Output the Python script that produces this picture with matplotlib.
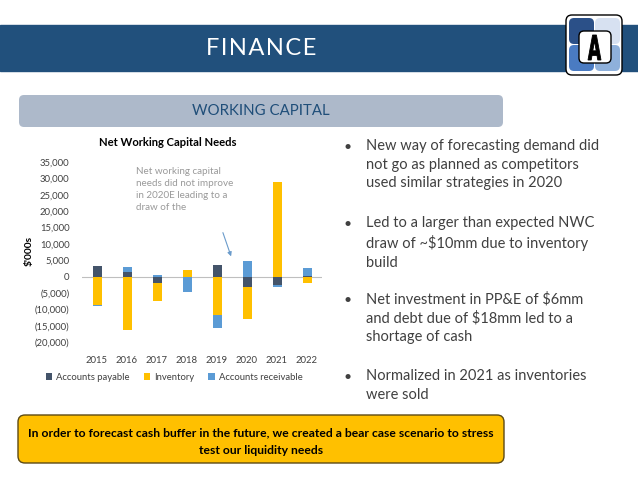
import matplotlib.pyplot as plt
import numpy as np
from matplotlib.font_manager import FontProperties
from matplotlib.patches import FancyBboxPatch, PathPatch
from matplotlib.textpath import TextPath
from matplotlib.ticker import FuncFormatter, MultipleLocator
from matplotlib.transforms import Affine2D

plt.rcParams['font.family'] = ['Lato', 'DejaVu Sans']

# chart data ($'000s)
years = ['2015', '2016', '2017', '2018', '2019', '2020', '2021', '2022']
payable = [3400, 1300, -1800, 0, 3700, -3300, -2500, 300]
inventory = [-8600, -16200, -5500, 2100, -11800, -9700, 28900, -2000]
receivable = [-300, 1700, 400, -4600, -4000, 4700, -800, 2300]

series = [('Accounts payable', payable, '#44546A'),
          ('Inventory', inventory, '#FFC000'),
          ('Accounts receivable', receivable, '#5B9BD5')]

bullets = [
    'New way of forecasting demand did\nnot go as planned as competitors\nused similar strategies in 2020',
    'Led to a larger than expected NWC\ndraw of ~$10mm due to inventory\nbuild',
    'Net investment in PP&E of $6mm\nand debt due of $18mm led to a\nshortage of cash',
    'Normalized in 2021 as inventories\nwere sold',
]

W, H = 638, 479
fig = plt.figure(figsize=(W / 100, H / 100), dpi=100)

# slide background, drawn in pixel coordinates
bg = fig.add_axes([0, 0, 1, 1])
bg.set_xlim(0, W)
bg.set_ylim(H, 0)
bg.axis('off')

bg.add_patch(plt.Rectangle((0, 25), W, 46, color='#21507C'))
bg.text(261, 48, '\u200a'.join('FINANCE'), color='white', fontsize=17,
        ha='center', va='center')

# logo
bg.add_patch(FancyBboxPatch((566, 15), 56, 60, boxstyle='round,pad=0,rounding_size=6',
                            fc='white', ec='black', lw=1))
quads = [(569, 18, '#2B5088'), (595, 18, '#D7E1F1'), (569, 45, '#4A7BC2'), (595, 45, '#8EB0DB')]
for qx, qy, qc in quads:
    bg.add_patch(FancyBboxPatch((qx, qy), 25, 26, boxstyle='round,pad=0,rounding_size=5',
                                fc=qc, ec='none'))
bg.add_patch(FancyBboxPatch((579, 31), 32, 32, boxstyle='round,pad=0,rounding_size=5',
                            fc='white', ec='black', lw=1))
# narrow, tall "A" like the logo letter
tp = TextPath((0, 0), 'A', size=1, prop=FontProperties(family='DejaVu Sans', weight='bold'))
ext = tp.get_extents()
sx, sy = 13 / ext.width, 25 / ext.height
tr = (Affine2D().translate(-ext.x0 - ext.width / 2, -ext.y0 - ext.height / 2)
      .scale(sx, -sy).translate(594.5, 47.5))
bg.add_patch(PathPatch(tr.transform_path(tp), fc='black', ec='black', lw=0.6))

# sub header
bg.add_patch(FancyBboxPatch((19, 95), 484, 32, boxstyle='round,pad=0,rounding_size=5',
                            fc='#ADB9CA', ec='none'))
bg.text(261, 111, 'WORKING CAPITAL', color='#1F4E79', fontsize=10.8, ha='center', va='center')

# bullets
bullet_y = [139, 216, 292, 369]
for y, txt in zip(bullet_y, bullets):
    bg.text(348, y + 8, '•', fontsize=10, color='#404040', ha='center', va='center')
    bg.text(366, y, txt, fontsize=10.5, color='#404040', va='top', ha='left',
            linespacing=1.42, parse_math=False)

# bottom call-out
bg.add_patch(FancyBboxPatch((18, 415), 486, 48, boxstyle='round,pad=0,rounding_size=7',
                            fc='#FFC000', ec='#5C4A14', lw=1))
bg.text(261, 441.5, 'In order to forecast cash buffer in the future, we created a bear case scenario to stress\n'
        'test our liquidity needs', fontsize=8.75, fontweight='bold', ha='center', va='center',
        linespacing=1.75, color='black')

# annotation on the chart
bg.text(136, 167, 'Net working capital\nneeds did not improve\nin 2020E leading to a\ndraw of the',
        fontsize=7.1, color='#9A9A9A', va='top', ha='left', linespacing=1.43)
bg.annotate('', xy=(232, 259), xytext=(222, 230),
            arrowprops=dict(arrowstyle='-|>', color='#6A9BCB', lw=0.8, mutation_scale=6))

# chart
ax = fig.add_axes([82 / W, 1 - 342 / H, 240 / W, (342 - 162.3) / H])
ax.patch.set_alpha(0)
x = np.arange(len(years))
pos_base = np.zeros(len(years))
neg_base = np.zeros(len(years))
for name, vals, col in series:
    v = np.array(vals, dtype=float)
    base = np.where(v >= 0, pos_base, neg_base)
    ax.bar(x, v, 0.3, bottom=base, color=col, label=name, zorder=2)
    pos_base += np.clip(v, 0, None)
    neg_base += np.clip(v, None, 0)

ax.axhline(0, color='#BFBFBF', lw=0.8, zorder=1)
ax.set_xlim(-0.5, len(years) - 0.5)
ax.set_ylim(-20000, 35000)
ax.yaxis.set_major_locator(MultipleLocator(5000))
ax.yaxis.set_major_formatter(FuncFormatter(lambda v, p: f'({abs(v):,.0f})' if v < 0 else f'{v:,.0f}'))
ax.set_xticks(x)
ax.set_xticklabels(years)
ax.tick_params(length=0, labelsize=6.8, colors='#404040')
ax.tick_params(axis='y', pad=9)
ax.tick_params(axis='x', pad=10)
for s in ax.spines.values():
    s.set_visible(False)

fig.text(168 / W, 1 - 143 / H, 'Net Working Capital Needs', fontsize=8.1, fontweight='bold',
         ha='center', va='center', color='black')
fig.text(29 / W, 1 - 251 / H, "$'000s", fontsize=7.3, fontweight='bold', rotation=90,
         ha='center', va='center', color='black', parse_math=False)

fig.legend(loc='center', bbox_to_anchor=(174 / W, 1 - 377 / H), ncol=3, frameon=False,
           fontsize=6.8, handlelength=0.7, handleheight=0.7, handletextpad=0.4,
           columnspacing=1.5, labelcolor='#404040')

fig.savefig('out.png', dpi=100)
